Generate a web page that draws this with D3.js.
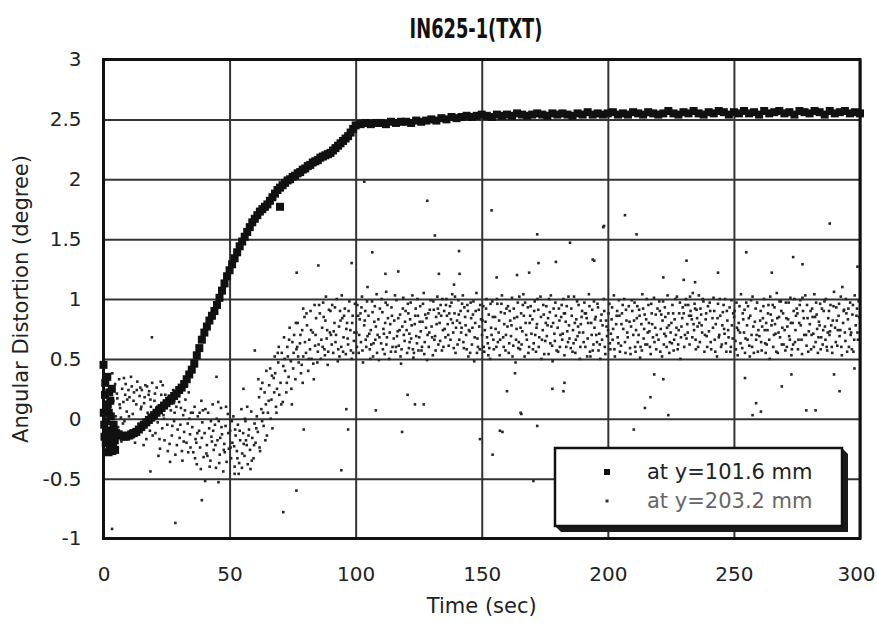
<!DOCTYPE html>
<html>
<head>
<meta charset="utf-8">
<script src="https://cdn.jsdelivr.net/npm/d3@7"></script>
<style>
  body { margin: 0; background: #fff; }
</style>
</head>
<body>
<div id="chart"></div>
<script>
// ---- data ----
var xTicks = [0, 50, 100, 150, 200, 250, 300];
var yTicks = [-1, -0.5, 0, 0.5, 1, 1.5, 2, 2.5, 3];

var titleText = "IN625-1(TXT)";
var xLabel = "Time (sec)";
var yLabel = "Angular Distortion (degree)";
var seriesNames = ["at y=101.6 mm", "at y=203.2 mm"];

// series 1 (at y=101.6 mm): [time, angle]
var curveStart = [[0,0.45],[0.1,0.05],[0.3,-0.05],[0.4,-0.15],[0.6,0.2],[0.7,0.3],[0.9,-0.2],[1.0,-0.02],[1.2,0.1],[1.4,-0.2],
  [1.5,0.35],[1.7,0.12],[1.8,-0.1],[2.0,-0.28],[2.1,0.05],[2.3,0.22],[2.4,-0.25],[2.6,-0.17],[2.7,0.15],[2.9,0.02],
  [3.0,-0.15],[3.2,-0.1],[3.3,0.25],[3.5,-0.27],[3.6,-0.22],[3.8,-0.2],[4.0,-0.05],[4.2,-0.11],[4.5,-0.18],[4.6,-0.26],[5,-0.12]];
var curveRise = [[6,-0.13],[7,-0.14],[8,-0.15],[9,-0.15],[10,-0.14],[11,-0.13],[12,-0.12],[13,-0.11],[14,-0.09],[15,-0.07],
  [16,-0.05],[17,-0.03],[18,-0.01],[19,0.01],[20,0.03],[21,0.05],[22,0.07],[23,0.09],[24,0.11],[25,0.13],
  [26,0.15],[27,0.17],[28,0.19],[29,0.21],[30,0.24],[31,0.26],[32,0.29],[33,0.33],[34,0.37],[35,0.41],
  [36,0.46],[37,0.53],[38,0.59],[39,0.66],[40,0.72],[41,0.77],[42,0.82],[43,0.86],[44,0.9],[45,0.95],
  [46,1.01],[47,1.07],[48,1.13],[49,1.19],[50,1.24],[51,1.29],[52,1.34],[53,1.39],[54,1.44],[55,1.48],
  [56,1.52],[57,1.56],[58,1.6],[59,1.64],[60,1.67],[61,1.7],[62,1.73],[63,1.75],[64,1.77],[65,1.79],
  [66,1.82],[67,1.85],[68,1.88],[69,1.91],[70,1.93],[70,1.77],[71,1.95],[72,1.97],[73,1.99],[74,2.0],[75,2.02],
  [76,2.03],[77,2.05],[78,2.06],[79,2.08],[80,2.09],[81,2.11],[82,2.12],[83,2.14],[84,2.15],[85,2.16],
  [86,2.18],[87,2.19],[88,2.2],[89,2.21],[90,2.22],[91,2.24],[92,2.26],[93,2.28],[94,2.3],[95,2.32],
  [96,2.34],[97,2.36],[98,2.39],[99,2.42],[100,2.45]];
var curvePlateau = [[102,2.46],[104,2.47],[106,2.46],[108,2.47],[110,2.47],[112,2.46],[114,2.48],[116,2.47],[118,2.48],[120,2.48],
  [122,2.47],[124,2.49],[126,2.48],[128,2.49],[130,2.5],[132,2.49],[134,2.51],[136,2.5],[138,2.52],[140,2.51],
  [142,2.52],[144,2.53],[146,2.52],[148,2.53],[150,2.54],[152,2.53],[154,2.52],[156,2.54],[158,2.53],[160,2.54],
  [162,2.53],[164,2.55],[166,2.54],[168,2.53],[170,2.54],[172,2.55],[174,2.54],[176,2.53],[178,2.55],[180,2.54],
  [182,2.55],[184,2.54],[186,2.53],[188,2.55],[190,2.54],[192,2.56],[194,2.54],[196,2.55],[198,2.54],[200,2.55],
  [202,2.56],[204,2.54],[206,2.55],[208,2.54],[210,2.56],[212,2.55],[214,2.54],[216,2.56],[218,2.55],[220,2.54],
  [222,2.55],[224,2.57],[226,2.55],[228,2.54],[230,2.56],[232,2.55],[234,2.57],[236,2.55],[238,2.54],[240,2.56],
  [242,2.55],[244,2.57],[246,2.56],[248,2.54],[250,2.56],[252,2.55],[254,2.57],[256,2.55],[258,2.56],[260,2.54],
  [262,2.57],[264,2.55],[266,2.56],[268,2.57],[270,2.55],[272,2.56],[274,2.54],[276,2.57],[278,2.56],[280,2.55],
  [282,2.57],[284,2.56],[286,2.54],[288,2.57],[290,2.55],[292,2.56],[294,2.57],[296,2.55],[298,2.56],[300,2.55]];

// series 2 (at y=203.2 mm): [time, angle]
var scatterEarly = [[0.3,0.12],[0.8,-0.18],[1.2,0.31],[1.7,0.05],[2.2,-0.26],[2.6,0.22],[3.1,-0.08],[3.5,0.38],[3.9,0.15],[4.4,-0.21],[4.8,0.02],[1.0,-0.05],[2.9,0.27],[4.1,-0.12],
  [5.3,0.21],[5.8,-0.07],[6.2,0.33],[6.6,0.09],[7.1,-0.19],[7.4,0.25],[7.9,0.14],[8.3,-0.02],[8.8,0.29],[9.2,0.06],[9.6,-0.15],[5.5,0.17],[6.9,0.01],[8.6,0.2],[9.9,0.24],
  [10.3,0.18],[10.7,-0.1],[11.2,0.27],[11.6,0.04],[12.1,0.22],[12.5,-0.2],[13.0,0.12],[13.4,0.31],[13.9,-0.04],[14.3,0.19],[14.8,0.08],[10.9,0.35],[12.8,-0.13],[14.6,0.26],
  [15.2,0.24],[15.7,-0.06],[16.1,0.13],[16.6,0.28],[17.0,-0.17],[17.5,0.05],[17.9,0.2],[18.4,-0.1],[18.8,0.1],[19.3,0.3],[19.7,-0.01],[16.3,0.18],[18.1,0.23],[15.9,-0.22],
  [20.2,0.15],[20.6,-0.12],[21.1,0.26],[21.5,-0.03],[22.0,0.08],[22.4,-0.25],[22.9,0.2],[23.3,-0.08],[23.8,0.03],[24.2,-0.18],[24.7,0.12],[21.8,-0.31],[23.5,0.28],[20.9,0.02],
  [25.3,-0.05],[25.8,0.18],[26.2,-0.21],[26.7,0.07],[27.1,-0.14],[27.6,0.24],[28.0,-0.02],[28.5,-0.3],[28.9,0.1],[29.4,-0.09],[29.8,0.2],[26.4,-0.36],[27.9,0.13],
  [30.2,-0.16],[30.7,0.09],[31.1,-0.27],[31.6,0.03],[32.0,-0.11],[32.5,0.16],[32.9,-0.2],[33.4,-0.04],[33.8,0.22],[34.3,-0.13],[34.7,0.05],[31.3,-0.35],[33.1,0.28],[34.5,-0.24],
  [35.2,-0.07],[35.6,-0.28],[36.1,0.1],[36.5,-0.17],[37.0,-0.38],[37.4,0.02],[37.9,-0.1],[38.3,-0.24],[38.8,0.15],[39.2,-0.03],[39.7,-0.32],[36.8,-0.2],[38.6,-0.42],[39.4,0.07],
  [40.1,-0.12],[41.0,-0.22],[41.5,0.05],[41.9,-0.08],[42.4,-0.35],[42.8,-0.15],[43.3,0.12],[43.7,-0.26],[44.2,-0.05],[44.6,-0.41],[41.2,-0.31],[43.0,-0.19],[44.9,0.0],
  [45.2,-0.18],[45.7,-0.02],[46.1,-0.3],[46.6,0.09],[47.0,-0.13],[47.5,-0.44],[47.9,-0.21],[48.4,-0.06],[48.8,-0.36],[49.3,0.04],[49.7,-0.25],[46.3,-0.16],[48.1,-0.28],[45.5,0.14],
  [50.2,-0.1],[50.6,-0.33],[51.1,-0.2],[51.5,0.02],[52.0,-0.4],[52.4,-0.14],[52.9,-0.27],[53.3,-0.05],[53.8,-0.37],[54.2,-0.18],[54.7,0.08],[51.8,-0.23],[53.6,-0.46],[55.0,-0.29],
  [55.4,-0.12],[55.9,-0.31],[56.3,-0.02],[56.8,-0.22],[57.2,-0.38],[57.7,-0.09],[58.1,-0.26],[58.6,0.06],[59.0,-0.16],[59.5,-0.33],[59.9,-0.04],[56.5,-0.18],[58.3,-0.42],[57.0,0.1],
  [60.3,-0.2],[60.8,0.02],[61.2,-0.11],[61.7,0.18],[62.1,-0.27],[62.6,0.08],[63.0,0.3],[63.5,-0.06],[63.9,0.22],[64.4,0.12],[64.8,-0.14],[61.4,0.33],[62.9,-0.02],[64.6,0.4],
  [65.2,0.05],[65.7,0.28],[66.1,0.42],[66.6,0.16],[67.0,-0.08],[67.5,0.34],[67.9,0.52],[68.4,0.1],[68.8,0.25],[69.3,0.47],[69.7,0.2],[66.3,0.0],[68.1,0.38],[69.5,0.6],
  [70.2,0.3],[70.7,0.55],[71.1,0.14],[71.6,0.68],[72.0,0.4],[72.5,0.22],[72.9,0.6],[73.4,0.35],[73.8,0.76],[74.3,0.48],[74.7,0.12],[71.3,0.44],[73.1,0.52],[74.9,0.64],
  [75.2,0.42],[75.6,0.7],[76.1,0.33],[76.5,0.58],[77.0,0.8],[77.4,0.47],[77.9,0.63],[78.3,0.38],[78.8,0.74],[79.2,0.52],[79.7,0.85],[76.8,0.6],[78.6,0.45],
  [80.3,0.55],[80.7,0.78],[81.2,0.4],[81.6,0.66],[82.1,0.9],[82.5,0.5],[83.0,0.72],[83.4,0.33],[83.9,0.61],[84.3,0.84],[84.8,0.47],[81.9,0.58],[83.7,0.95],
  [85.3,0.62],[85.8,0.88],[86.2,0.5],[86.7,0.76],[87.1,0.97],[87.6,0.58],[88.0,0.82],[88.5,0.67],[88.9,0.45],[89.4,0.91],[89.8,0.72],[86.4,0.66],[88.2,1.02],[87.8,0.53],
  [90.2,0.7],[90.7,0.95],[91.1,0.55],[91.6,0.8],[92.0,0.64],[92.5,1.0],[92.9,0.48],[93.4,0.77],[93.8,0.9],[94.3,0.6],[94.7,0.84],[91.3,0.73],[93.1,0.58],[94.5,1.03],
  [95.2,0.68],[95.7,0.92],[96.1,0.54],[96.6,0.8],[97.0,0.62],[97.5,0.98],[97.9,0.74],[98.4,0.5],[98.8,0.86],[99.3,0.65],[99.7,0.96],[96.3,0.75],[98.1,0.57]];

var scatterEarlyDense = [[0.6,-0.12],[1.5,0.18],[2.4,0.08],[3.3,-0.2],[4.6,0.29],[5.1,-0.1],[6.4,0.12],[7.7,-0.04],[8.1,0.34],[9.4,0.16],
  [10.1,0.02],[11.4,-0.16],[11.9,0.15],[13.2,0.24],[13.7,-0.09],[15.0,0.1],[16.8,-0.03],[17.3,0.27],[18.6,0.16],[19.5,-0.14],
  [20.4,0.21],[21.3,0.1],[22.2,-0.17],[22.7,0.31],[24.0,0.0],[24.5,0.2],[25.5,-0.27],[26.9,0.16],[27.3,-0.06],[28.2,0.05],
  [29.1,-0.22],[30.0,0.14],[30.5,-0.05],[31.8,-0.19],[32.3,0.07],[33.6,-0.28],[34.1,0.0],[35.4,0.05],[36.3,-0.33],[37.2,-0.12],
  [38.1,0.05],[39.0,-0.16],[40.4,0.08],[40.8,-0.29],[42.1,-0.4],[42.6,-0.02],[43.5,-0.1],[44.4,-0.22],[45.9,-0.37],[46.8,-0.07],
  [47.7,-0.26],[48.6,0.1],[49.5,-0.12],[50.4,-0.24],[50.9,-0.02],[52.2,-0.09],[53.1,-0.33],[54.0,-0.1],[54.9,-0.41],[55.6,-0.21],
  [56.1,0.0],[57.5,-0.14],[58.8,-0.35],[59.7,-0.22],[60.6,-0.08],[61.9,-0.24],[62.4,0.25],[63.3,0.05],[64.2,-0.18],[65.5,0.15],
  [66.8,0.36],[67.7,0.22],[68.6,0.05],[69.1,0.55],[70.5,0.12],[71.8,0.5],[72.7,0.3],[73.6,0.66],[74.5,0.25],[75.4,0.55],
  [76.3,0.8],[77.2,0.52],[78.1,0.7],[79.0,0.3],[79.9,0.64],[80.5,0.88],[81.4,0.5],[82.3,0.74],[83.2,0.46],[84.1,0.7],
  [85.0,0.56],[85.5,0.95],[86.9,0.6],[87.3,0.85],[88.7,0.74],[89.1,0.56],[90.0,0.9],[90.5,0.62],[91.8,0.93],[92.2,0.7],
  [93.6,0.52],[94.0,0.82],[95.0,0.56],[95.4,0.86],[96.8,0.67],[97.2,0.9],[98.6,0.8],[99.0,0.55],[99.5,0.72]];

var scatterLate = [[100.3,0.72],[100.7,0.95],[101.2,0.55],[101.6,0.83],[102.1,0.64],[102.5,1.02],[102.9,0.47],[103.4,0.78],[103.8,0.9],[104.2,0.6],[104.7,0.69],[101.9,0.88],
  [105.1,0.86],[105.6,0.58],[106.0,0.74],[106.5,0.98],[106.9,0.52],[107.4,0.81],[107.8,0.66],[108.3,1.04],[108.7,0.7],[109.2,0.49],[109.6,0.92],[106.2,0.62],[108.0,0.77],
  [110.1,0.63],[110.6,0.89],[111.0,0.75],[111.5,0.54],[111.9,0.97],[112.4,0.68],[112.8,0.84],[113.3,0.5],[113.7,0.79],[114.2,0.93],[114.6,0.6],[111.2,0.71],[112.1,1.06],
  [115.3,0.82],[115.8,0.56],[116.2,0.99],[116.7,0.73],[117.1,0.61],[117.6,0.87],[118.0,0.46],[118.5,0.77],[118.9,1.01],[119.4,0.65],[119.8,0.9],[116.4,0.69],[118.2,0.58],
  [120.2,0.74],[120.7,0.96],[121.1,0.59],[121.6,0.83],[122.0,0.67],[122.5,1.03],[122.9,0.51],[123.4,0.79],[123.8,0.92],[124.3,0.63],[124.7,0.86],[121.3,0.71],[123.1,0.55],
  [125.2,0.68],[125.6,0.94],[126.1,0.57],[126.5,0.81],[127.0,1.05],[127.4,0.64],[127.9,0.76],[128.3,0.49],[128.8,0.88],[129.2,0.72],[129.7,0.99],[126.3,0.6],[128.1,0.84],
  [130.1,0.77],[130.6,0.53],[131.0,0.91],[131.5,0.69],[131.9,0.85],[132.4,1.02],[132.8,0.62],[133.3,0.8],[133.7,0.95],[134.2,0.57],[134.6,0.74],[131.2,0.66],[133.0,0.88],
  [135.1,0.9],[135.6,0.68],[136.0,1.0],[136.5,0.79],[136.9,0.61],[137.4,0.94],[137.8,0.83],[138.3,1.04],[138.7,0.72],[139.2,0.88],[139.6,0.55],[136.2,0.86],[138.0,0.97],
  [140.2,0.82],[140.7,0.99],[141.1,0.66],[141.6,0.9],[142.0,0.76],[142.5,1.03],[142.9,0.59],[143.4,0.85],[143.8,0.7],[144.3,0.95],[144.7,0.52],[141.3,0.8],[143.1,0.93],
  [145.2,0.73],[145.6,0.97],[146.1,0.62],[146.5,0.87],[147.0,0.48],[147.4,0.8],[147.9,1.05],[148.3,0.67],[148.8,0.91],[149.2,0.58],[149.7,0.83],[146.3,0.76],[148.1,0.55],
  [150.1,0.7],[150.6,0.94],[151.0,0.56],[151.5,0.81],[151.9,1.0],[152.4,0.63],[152.8,0.87],[153.3,0.5],[153.7,0.76],[154.2,0.98],[154.6,0.66],[151.2,0.74],[153.0,0.59],
  [155.3,0.85],[155.8,0.6],[156.2,0.96],[156.7,0.72],[157.1,0.53],[157.6,0.89],[158.0,1.03],[158.5,0.68],[158.9,0.79],[159.4,0.57],[159.8,0.92],[156.4,0.64],
  [160.2,0.77],[160.7,0.55],[161.1,0.9],[161.6,0.69],[162.0,1.01],[162.5,0.61],[162.9,0.84],[163.4,0.47],[163.8,0.75],[164.3,0.97],[164.7,0.64],[161.3,0.82],
  [165.2,0.58],[165.6,0.88],[166.1,0.73],[166.5,1.04],[167.0,0.52],[167.4,0.8],[167.9,0.66],[168.3,0.93],[168.8,0.6],[169.2,0.86],[169.7,0.71],[166.3,0.95],
  [170.1,0.83],[170.6,0.63],[171.0,0.98],[171.5,0.56],[171.9,0.79],[172.4,0.91],[172.8,0.68],[173.3,1.02],[173.7,0.5],[174.2,0.74],[174.6,0.87],[171.2,0.7],
  [175.2,0.65],[175.6,0.94],[176.1,0.78],[176.5,0.54],[177.0,0.89],[177.4,1.03],[177.9,0.61],[178.3,0.8],[178.8,0.71],[179.2,0.97],[179.7,0.57],[176.3,0.84],[178.1,0.48],
  [180.1,0.76],[180.6,0.92],[181.0,0.6],[181.5,0.85],[181.9,0.66],[182.4,1.0],[182.8,0.53],[183.3,0.81],[183.7,0.94],[184.2,0.64],[184.6,0.78],[181.2,0.7],[183.0,0.88],
  [185.3,0.59],[185.7,0.86],[186.2,0.74],[186.6,1.02],[187.1,0.55],[187.5,0.83],[188.0,0.69],[188.4,0.95],[188.9,0.5],[189.3,0.79],[189.8,0.9],[186.4,0.63],[188.2,0.77],
  [190.2,0.72],[190.7,0.97],[191.1,0.6],[191.6,0.84],[192.0,0.67],[192.5,1.04],[192.9,0.56],[193.4,0.8],[193.8,0.91],[194.3,0.62],[194.7,0.76],[191.3,0.88],[193.1,0.52],
  [195.2,0.85],[195.7,0.64],[196.1,0.93],[196.6,0.71],[197.0,0.5],[197.5,0.87],[197.9,0.78],[198.4,1.0],[198.8,0.6],[199.3,0.82],[199.7,0.69],[196.3,0.57],
  [200.1,0.74],[200.6,0.96],[201.0,0.58],[201.5,0.83],[201.9,0.66],[202.4,1.03],[202.8,0.52],[203.3,0.79],[203.7,0.9],[204.2,0.63],[204.6,0.86],[201.2,0.71],
  [205.2,0.61],[205.6,0.88],[206.1,0.75],[206.5,1.0],[207.0,0.55],[207.4,0.82],[207.9,0.68],[208.3,0.94],[208.8,0.59],[209.2,0.77],[209.7,0.9],
  [210.1,0.7],[210.6,0.97],[211.0,0.56],[211.5,0.84],[211.9,0.64],[212.4,0.91],[212.8,0.51],[213.3,0.79],[213.7,1.04],[214.2,0.67],[214.6,0.87],[211.2,0.74],[213.0,0.6],
  [215.2,0.83],[215.6,0.62],[216.1,0.95],[216.5,0.73],[217.0,0.54],[217.4,0.88],[217.9,0.68],[218.3,1.01],[218.8,0.76],[219.2,0.58],[219.7,0.92],[216.3,0.8],
  [220.1,0.66],[220.6,0.9],[221.0,0.75],[221.5,0.52],[221.9,0.98],[222.4,0.71],[222.8,0.85],[223.3,0.6],[223.7,1.03],[224.2,0.78],[224.6,0.64],[221.2,0.87],[223.0,0.69],
  [225.2,0.8],[225.6,0.95],[226.1,0.57],[226.5,0.83],[227.0,0.7],[227.4,1.02],[227.9,0.62],[228.3,0.88],[228.8,0.5],[229.2,0.77],[229.7,0.93],[226.3,0.66],[228.1,0.74],
  [230.1,0.88],[230.6,0.7],[231.0,1.0],[231.5,0.79],[231.9,0.95],[232.4,0.62],[232.8,0.9],[233.3,0.83],[233.7,1.05],[234.2,0.74],[234.6,0.92],[231.2,0.67],[233.0,0.86],[234.9,0.58],
  [235.2,0.91],[235.6,0.77],[236.1,1.03],[236.5,0.64],[237.0,0.87],[237.4,0.72],[237.9,0.98],[238.3,0.56],[238.8,0.83],[239.2,0.69],[239.7,0.94],[236.3,0.8],
  [240.1,0.73],[240.6,0.9],[241.0,0.58],[241.5,0.84],[241.9,1.01],[242.4,0.66],[242.8,0.79],[243.3,0.52],[243.7,0.96],[244.2,0.7],[244.6,0.86],
  [245.2,0.62],[245.6,0.89],[246.1,0.75],[246.5,1.0],[247.0,0.56],[247.4,0.82],[247.9,0.68],[248.3,0.93],[248.8,0.6],[249.2,0.78],[249.7,0.88],[246.3,0.71],
  [250.1,0.85],[250.6,0.65],[251.0,0.97],[251.5,0.53],[251.9,0.8],[252.4,0.72],[252.8,1.04],[253.3,0.59],[253.7,0.83],[254.2,0.91],[254.6,0.67],[251.2,0.76],
  [255.2,0.78],[255.6,0.94],[256.1,0.61],[256.5,0.86],[257.0,0.7],[257.4,1.02],[257.9,0.55],[258.3,0.81],[258.8,0.66],[259.2,0.97],[259.7,0.74],[256.3,0.52],
  [260.1,0.69],[260.6,0.9],[261.0,0.57],[261.5,0.84],[261.9,1.0],[262.4,0.63],[262.8,0.8],[263.3,0.74],[263.7,0.95],[264.2,0.5],[264.6,0.87],[261.2,0.77],[263.0,0.62],
  [265.2,0.82],[265.6,0.6],[266.1,0.93],[266.5,0.71],[267.0,1.05],[267.4,0.55],[267.9,0.85],[268.3,0.68],[268.8,0.9],[269.2,0.76],[269.7,0.62],[266.3,0.79],[268.1,0.98],
  [270.1,0.74],[270.6,0.97],[271.0,0.6],[271.5,0.83],[271.9,0.69],[272.4,1.01],[272.8,0.53],[273.3,0.8],[273.7,0.9],[274.2,0.64],[274.6,0.86],[271.2,0.77],[273.0,0.58],
  [275.2,0.88],[275.6,0.66],[276.1,0.95],[276.5,0.78],[277.0,0.54],[277.4,0.9],[277.9,0.7],[278.3,1.03],[278.8,0.61],[279.2,0.84],[279.7,0.73],[276.3,0.99],
  [280.1,0.79],[280.6,0.58],[281.0,0.92],[281.5,0.71],[281.9,1.04],[282.4,0.64],[282.8,0.87],[283.3,0.55],[283.7,0.81],[284.2,0.96],[284.6,0.68],[281.2,0.85],[283.0,0.75],
  [285.2,0.62],[285.6,0.9],[286.1,0.77],[286.5,1.0],[287.0,0.57],[287.4,0.84],[287.9,0.7],[288.3,0.95],[288.8,0.6],[289.2,0.82],[289.7,1.06],[286.3,0.66],[288.1,0.73],
  [290.1,0.76],[290.6,0.93],[291.0,0.61],[291.5,0.86],[291.9,0.69],[292.4,1.02],[292.8,0.53],[293.3,0.8],[293.7,0.91],[294.2,0.65],[294.6,0.88],[291.2,0.74],[293.0,1.1],
  [295.2,0.83],[295.6,0.6],[296.1,0.97],[296.5,0.72],[297.0,0.87],[297.4,0.56],[297.9,1.03],[298.3,0.78],[298.8,0.92],[299.2,0.66],[299.7,0.85],[296.3,0.7]];

var scatterLateDense = [[100.5,0.6],[101.0,0.86],[101.4,0.7],[102.3,0.93],[102.7,0.57],[103.6,0.82],[104.0,0.66],[104.5,0.98],[105.4,0.71],[105.8,0.5],
  [106.7,0.89],[107.1,0.63],[107.6,0.94],[108.5,0.55],[109.0,0.83],[109.4,0.68],[110.3,1.0],[110.8,0.58],[111.7,0.8],[112.2,0.62],
  [112.6,0.95],[113.5,0.72],[114.0,0.56],[114.4,0.86],[115.1,0.67],[115.6,1.03],[116.0,0.6],[116.9,0.84],[117.4,0.74],[117.8,0.52],
  [118.7,0.92],[119.1,0.7],[119.6,0.81],[120.4,0.55],[120.9,0.88],[121.4,0.64],[121.8,0.97],[122.2,0.78],[122.7,0.58],[123.6,0.86],
  [124.0,0.69],[124.5,1.0],[124.9,0.57],[125.4,0.81],[125.8,0.73],[126.7,0.96],[127.2,0.54],[127.6,0.87],[128.5,0.7],[129.0,0.6],[129.4,0.91],
  [130.3,0.68],[130.8,0.98],[131.7,0.57],[132.1,0.79],[132.6,0.92],[133.5,0.65],[133.9,0.86],[134.4,1.0],[134.8,0.6],[135.3,0.75],
  [135.8,0.95],[136.7,0.7],[137.1,0.88],[137.6,0.66],[138.5,0.8],[138.9,0.59],[139.4,1.02],[139.8,0.76],
  [140.4,0.62],[140.9,0.87],[141.8,0.72],[142.2,0.96],[142.7,0.64],[143.6,0.78],[144.0,0.58],[144.5,0.9],[144.9,0.74],[145.4,0.55],
  [145.8,0.84],[146.7,0.98],[147.2,0.68],[147.6,0.9],[148.5,0.6],[149.0,0.77],[149.4,0.95],
  [150.3,0.82],[150.8,0.6],[151.7,0.92],[152.1,0.68],[152.6,0.53],[153.5,0.96],[153.9,0.7],[154.4,0.85],[154.8,0.58],[155.5,0.75],
  [156.0,1.0],[156.9,0.82],[157.3,0.66],[157.8,0.96],[158.7,0.6],[159.1,0.88],[159.6,0.7],
  [160.4,0.94],[160.9,0.63],[161.8,0.78],[162.2,0.52],[162.7,0.92],[163.6,0.66],[164.0,0.85],[164.5,0.59],[164.9,1.02],[165.4,0.76],
  [165.8,0.62],[166.7,0.86],[167.2,0.97],[167.6,0.7],[168.5,0.55],[169.0,0.8],[169.4,0.94],
  [170.3,0.58],[170.8,0.9],[171.7,0.76],[172.1,1.0],[172.6,0.6],[173.5,0.85],[173.9,0.66],[174.4,0.95],[174.8,0.54],[175.4,0.8],
  [175.8,0.69],[176.7,1.0],[177.2,0.63],[177.6,0.77],[178.5,0.92],[179.0,0.65],[179.4,0.86],
  [180.3,0.56],[180.8,0.82],[181.7,0.95],[182.1,0.71],[182.6,0.88],[183.5,0.6],[183.9,0.73],[184.4,1.02],[184.8,0.67],[185.5,0.92],
  [186.0,0.56],[186.9,0.8],[187.3,0.66],[187.8,0.98],[188.7,0.72],[189.1,0.6],[189.6,0.85],
  [190.4,0.64],[190.9,0.88],[191.8,0.52],[192.2,0.8],[192.7,0.94],[193.6,0.7],[194.0,0.57],[194.5,0.98],[194.9,0.83],[195.4,0.7],
  [195.9,0.96],[196.8,0.62],[197.2,0.82],[197.7,0.66],[198.6,0.9],[199.0,0.54],[199.5,0.77],
  [200.3,0.88],[200.8,0.63],[201.7,0.93],[202.1,0.75],[202.6,0.58],[203.5,0.86],[203.9,0.68],[204.4,0.99],[204.8,0.56],[205.4,0.79],
  [205.9,0.95],[206.8,0.64],[207.2,0.91],[207.7,0.72],[208.6,0.81],[209.0,0.54],[209.5,0.99],
  [210.4,0.82],[210.8,0.6],[211.7,0.94],[212.2,0.7],[212.6,0.86],[213.5,0.57],[214.0,0.92],[214.4,0.75],[214.9,0.62],[215.4,1.0],
  [215.8,0.72],[216.7,0.6],[217.2,0.96],[217.6,0.79],[218.5,0.64],[219.0,0.87],[219.4,0.7],
  [220.4,0.98],[220.8,0.56],[221.7,0.82],[222.2,0.62],[222.6,0.93],[223.5,0.76],[224.0,0.88],[224.4,0.55],[224.9,0.72],[225.4,0.63],
  [225.9,0.88],[226.8,1.0],[227.2,0.76],[227.7,0.58],[228.6,0.97],[229.0,0.68],[229.5,0.84],
  [230.3,0.6],[230.8,0.95],[231.7,0.72],[232.2,0.86],[232.6,1.02],[233.5,0.68],[234.0,0.79],[234.4,0.96],[234.8,0.66],[235.4,0.84],
  [235.8,0.6],[236.7,0.92],[237.2,0.78],[237.6,1.0],[238.5,0.7],[239.0,0.88],[239.4,0.6],
  [240.4,0.97],[240.8,0.64],[241.7,0.76],[242.2,0.9],[242.6,0.56],[243.5,0.84],[244.0,0.68],[244.4,1.0],[244.9,0.6],[245.4,0.78],
  [245.9,0.95],[246.8,0.63],[247.2,0.9],[247.7,0.74],[248.6,0.56],[249.0,0.99],[249.5,0.67],
  [250.3,0.9],[250.8,0.58],[251.7,0.74],[252.2,0.94],[252.6,0.63],[253.5,0.88],[254.0,0.72],[254.4,0.55],[254.9,0.97],[255.4,0.66],
  [255.9,0.84],[256.8,0.99],[257.2,0.6],[257.7,0.77],[258.6,0.92],[259.0,0.7],[259.5,0.56],
  [260.4,0.82],[260.8,0.64],[261.7,0.94],[262.2,0.74],[262.6,0.55],[263.5,0.88],[264.0,0.66],[264.4,1.02],[264.9,0.78],[265.4,0.95],
  [265.9,0.7],[266.8,0.56],[267.2,0.84],[267.7,0.72],[268.6,0.98],[269.0,0.62],[269.5,0.88],
  [270.4,0.57],[270.8,0.84],[271.7,0.97],[272.2,0.66],[272.6,0.8],[273.5,0.62],[274.0,1.0],[274.4,0.74],[274.9,0.92],[275.4,0.58],
  [275.9,0.8],[276.8,0.66],[277.2,1.01],[277.7,0.84],[278.6,0.7],[279.0,0.95],[279.5,0.56],
  [280.4,0.9],[280.8,0.7],[281.7,0.6],[282.2,0.85],[282.6,0.97],[283.5,0.68],[284.0,0.78],[284.4,0.58],[284.9,0.92],[285.4,0.74],
  [285.9,0.98],[286.8,0.6],[287.2,0.72],[287.7,0.9],[288.6,0.78],[289.0,0.55],[289.5,0.94],
  [290.4,0.64],[290.8,0.82],[291.7,0.96],[292.2,0.74],[292.6,0.6],[293.5,0.9],[294.0,0.72],[294.4,1.0],[294.9,0.56],[295.4,0.92],
  [295.9,0.75],[296.8,0.58],[297.2,0.95],[297.7,0.66],[298.6,0.86],[299.0,0.72],[299.5,0.98]];

// stray readings of series 2 outside the main band
var scatterOutliers = [[103.4,1.98],[128.4,1.82],[153.9,1.74],[206.8,1.7],[172,1.54],[198.2,1.6],[211.4,1.54],[131.4,1.53],
  [76.6,1.22],[85.2,1.28],[98.4,1.3],[106.6,1.39],[141,1.4],[179.4,1.31],[185,1.47],[194.6,1.32],[198.5,1.61],[288,1.63],
  [111.8,1.21],[116.9,1.23],[133,1.21],[141.2,1.21],[139,1.12],[104.7,1.1],[155.9,1.18],[172.5,1.3],[194,1.33],[164,1.2],
  [168.8,1.22],[231.2,1.32],[254.9,1.39],[273.5,1.35],[277.2,1.29],[265,1.22],[243.7,1.22],[222,1.18],[230.1,1.16],[234.6,1.14],[299,1.27],
  [120.6,0.2],[123.5,0.12],[127,0.12],[165.4,0.05],[214.7,0.09],[224,0.03],[258.8,0.13],[260.7,0.06],[257.4,0.03],[278.7,0.07],
  [282.4,0.07],[269,0.27],[291.9,0.23],[254.4,0.34],[272.8,0.37],[289.7,0.37],[297.8,0.42],[218.4,0.37],[222,0.33],[216.9,0.18],
  [178,0.25],[182.4,0.23],[182.8,0.3],[160,0.23],[163.2,0.38],[157.2,-0.1],[172,-0.06],[210.3,-0.09],[118.4,-0.11],[97,-0.09],
  [79.4,-0.09],[96.3,0.08],[108,0.07],[149.3,-0.17],[165.7,0.04],[158.2,-0.11],[154.3,-0.3],[170.5,-0.52],[243,-0.39],
  [3.4,-0.92],[28.5,-0.87],[39,-0.68],[71.3,-0.78],[76.5,-0.6],[40.3,-0.52],[45.6,-0.53],[18.6,-0.44],[94.3,-0.43],[52,-0.46],
  [19.2,0.68],[60,0.57],[44.8,0.35],[55.5,0.25],[79.2,0.92]];

// ---- layout ----
var W = 877, H = 623;
var plot = { left: 103.5, right: 860, top: 59.5, bottom: 538.5 };
var fontMain = "'DejaVu Sans', sans-serif";

var svg = d3.select("#chart")
    .append("svg")
    .attr("width", W)
    .attr("height", H);

var x = d3.scaleLinear().domain([0, 300]).range([plot.left, plot.right]);
var y = d3.scaleLinear().domain([-1, 3]).range([plot.bottom, plot.top]);

// Gridlines
svg.append("g")
    .attr("transform", "translate(0," + plot.bottom + ")")
    .call(d3.axisBottom(x).tickValues(xTicks).tickSize(-(plot.bottom - plot.top)).tickFormat(""))
    .call(g => g.select(".domain").remove())
    .selectAll("line").attr("stroke", "#333").attr("stroke-width", 2);
svg.append("g")
    .attr("transform", "translate(" + plot.left + ",0)")
    .call(d3.axisLeft(y).tickValues(yTicks).tickSize(-(plot.right - plot.left)).tickFormat(""))
    .call(g => g.select(".domain").remove())
    .selectAll("line").attr("stroke", "#333").attr("stroke-width", 2);

// Series 2 dots
var series2 = scatterEarly.concat(scatterEarlyDense, scatterLate, scatterLateDense, scatterOutliers);
svg.append("g")
    .selectAll("rect")
    .data(series2)
    .enter()
    .append("rect")
    .attr("x", d => x(d[0]) - 1.3)
    .attr("y", d => y(d[1]) - 1.3)
    .attr("width", 2.6)
    .attr("height", 2.6)
    .attr("fill", "#262626");

// Series 1 squares (drawn big enough to merge into a thick band)
var series1 = curveStart.concat(curveRise, curvePlateau);
svg.append("g")
    .selectAll("rect")
    .data(series1)
    .enter()
    .append("rect")
    .attr("x", d => x(d[0]) - 4)
    .attr("y", d => y(d[1]) - 4)
    .attr("width", 8)
    .attr("height", 8)
    .attr("fill", "#111");

// Plot frame
svg.append("rect")
    .attr("x", plot.left)
    .attr("y", plot.top)
    .attr("width", plot.right - plot.left)
    .attr("height", plot.bottom - plot.top)
    .attr("fill", "none")
    .attr("stroke", "#111")
    .attr("stroke-width", 3);

// Tick labels
svg.append("g")
    .attr("transform", "translate(0," + plot.bottom + ")")
    .call(d3.axisBottom(x).tickValues(xTicks).tickSize(0).tickPadding(28).tickFormat(d => String(d)))
    .call(g => g.select(".domain").remove())
    .selectAll("text")
    .attr("font-family", fontMain)
    .attr("font-size", 20)
    .attr("dx", d => d === 300 ? -4 : 0)
    .attr("fill", "#222");
svg.append("g")
    .attr("transform", "translate(" + plot.left + ",0)")
    .call(d3.axisLeft(y).tickValues(yTicks).tickSize(0).tickPadding(22).tickFormat(d => String(d)))
    .call(g => g.select(".domain").remove())
    .selectAll("text")
    .attr("font-family", fontMain)
    .attr("font-size", 20)
    .attr("fill", "#222");

// Titles
svg.append("text")
    .attr("transform", "translate(" + 476 + ",38) scale(0.66,1)")
    .attr("text-anchor", "middle")
    .attr("font-family", fontMain)
    .attr("font-weight", "bold")
    .attr("font-size", 27)
    .attr("fill", "#111")
    .text(titleText);
svg.append("text")
    .attr("x", (plot.left + plot.right) / 2)
    .attr("y", 613)
    .attr("text-anchor", "middle")
    .attr("font-family", fontMain)
    .attr("font-size", 21)
    .attr("fill", "#222")
    .text(xLabel);
svg.append("text")
    .attr("transform", "translate(28," + (plot.top + plot.bottom) / 2 + ") rotate(-90)")
    .attr("text-anchor", "middle")
    .attr("font-family", fontMain)
    .attr("font-size", 21)
    .attr("fill", "#222")
    .text(yLabel);

// Legend with drop shadow
var lg = { x: 555, y: 448, w: 287, h: 78, d: 6 };
svg.append("polygon")
    .attr("points", [
        [lg.x + lg.w, lg.y], [lg.x + lg.w + lg.d, lg.y + lg.d],
        [lg.x + lg.w + lg.d, lg.y + lg.h + lg.d], [lg.x + lg.d, lg.y + lg.h + lg.d],
        [lg.x, lg.y + lg.h]].map(p => p.join(",")).join(" "))
    .attr("fill", "#1a1a1a");
svg.append("rect")
    .attr("x", lg.x)
    .attr("y", lg.y)
    .attr("width", lg.w)
    .attr("height", lg.h)
    .attr("fill", "#fff")
    .attr("stroke", "#111")
    .attr("stroke-width", 2.5);

var legendRows = [
    { name: seriesNames[0], size: 6, color: "#111", textColor: "#222", cy: 472 },
    { name: seriesNames[1], size: 3, color: "#333", textColor: "#666", cy: 501 }
];
var rows = svg.selectAll("myLegend")
    .data(legendRows)
    .enter()
    .append("g");
rows.append("rect")
    .attr("x", d => 607 - d.size / 2)
    .attr("y", d => d.cy - d.size / 2)
    .attr("width", d => d.size)
    .attr("height", d => d.size)
    .attr("fill", d => d.color);
rows.append("text")
    .attr("x", 647)
    .attr("y", d => d.cy + 7)
    .attr("font-family", fontMain)
    .attr("font-size", 21)
    .attr("fill", d => d.textColor)
    .text(d => d.name);
</script>
</body>
</html>
